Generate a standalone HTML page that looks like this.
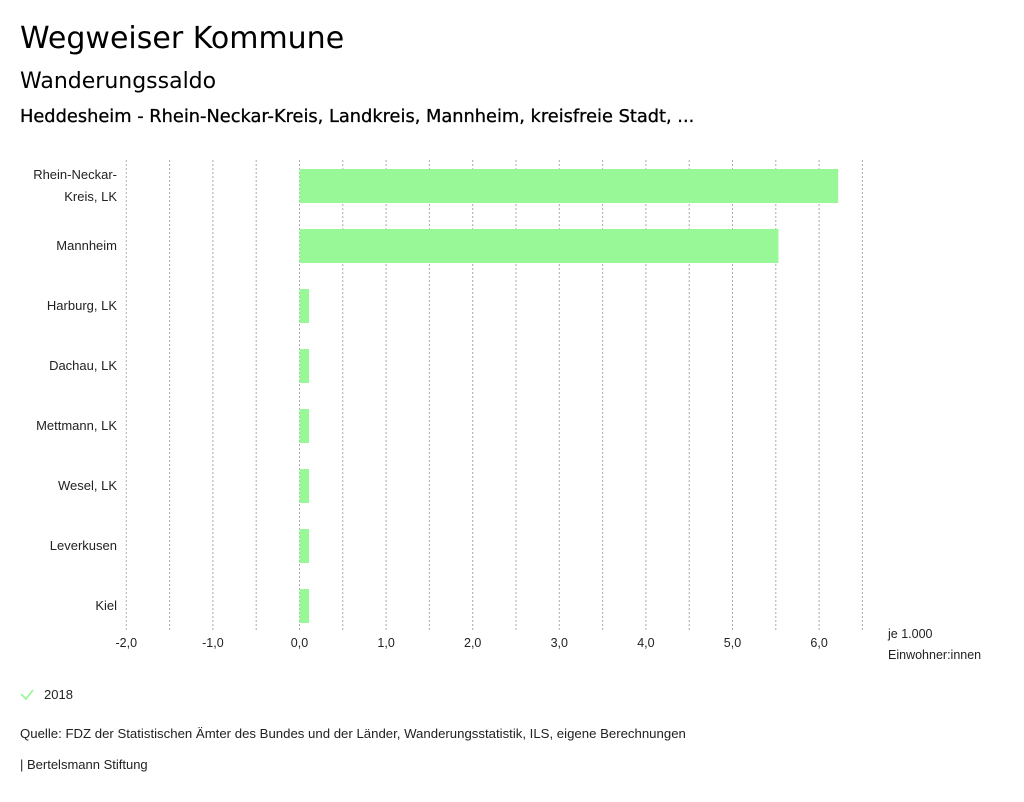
<!DOCTYPE html>
<html><head><meta charset="utf-8"><style>
body{margin:0;width:1024px;height:797px;background:#fff;font-family:"Liberation Sans",sans-serif;color:#000;overflow:hidden}
</style></head><body>
<svg width="1024" height="797" xmlns="http://www.w3.org/2000/svg">
<text x="20" y="48" font-size="30" font-family="DejaVu Sans, sans-serif">Wegweiser Kommune</text>
<text x="20" y="88" font-size="22" font-family="DejaVu Sans, sans-serif">Wanderungssaldo</text>
<text x="20" y="122" font-size="17.8" stroke="#000" stroke-width="0.3" font-family="DejaVu Sans, sans-serif">Heddesheim - Rhein-Neckar-Kreis, Landkreis, Mannheim, kreisfreie Stadt, ...</text>
<g id="grid"></g>
<g id="bars"></g>
<g id="ylabels" font-size="13" fill="#222" text-anchor="end"></g>
<g id="xlabels" font-size="12.5" fill="#222" text-anchor="middle"></g>
<text x="888" y="638" font-size="12.5" fill="#222"><tspan x="888">je 1.000</tspan><tspan x="888" dy="21">Einwohner:innen</tspan></text>
<g>
<path d="M21 694 L26 699 L33 690" stroke="#98f898" stroke-width="1.6" fill="none"/>
<text x="44" y="699" font-size="13" fill="#222">2018</text>
</g>
<text x="20" y="738" font-size="13.2" fill="#222">Quelle: FDZ der Statistischen Ämter des Bundes und der Länder, Wanderungsstatistik, ILS, eigene Berechnungen</text>
<text x="20" y="769" font-size="13" fill="#222">| Bertelsmann Stiftung</text>
</svg>
<script>
const categories=[["Rhein-Neckar-","Kreis, LK"],["Mannheim"],["Harburg, LK"],["Dachau, LK"],["Mettmann, LK"],["Wesel, LK"],["Leverkusen"],["Kiel"]];
const values=[6.22,5.53,0.11,0.11,0.11,0.11,0.11,0.11];
const tickValues=[-2,-1,0,1,2,3,4,5,6];
const tickLabels=["-2,0","-1,0","0,0","1,0","2,0","3,0","4,0","5,0","6,0"];
const gridValues=[-2,-1.5,-1,-0.5,0,0.5,1,1.5,2,2.5,3,3.5,4,4.5,5,5.5,6,6.5];
const NS="http://www.w3.org/2000/svg";
const x=v=>299.5+v*86.6;
const yc=i=>186+i*60;
function mk(t,a,p){const e=document.createElementNS(NS,t);for(const k in a)e.setAttribute(k,a[k]);p.appendChild(e);return e;}
const g=document.getElementById('grid');
gridValues.forEach(v=>{const l=mk('line',{x1:x(v),x2:x(v),y1:160,y2:632,stroke:'#aaa','stroke-width':1,'stroke-dasharray':'2,2'},g);

});
const b=document.getElementById('bars');
values.forEach((v,i)=>{const r=mk('rect',{x:Math.min(x(0),x(v)),y:yc(i)-17,width:Math.abs(x(v)-x(0)),height:34,fill:'#98f898'},b);

});
const yl=document.getElementById('ylabels');
categories.forEach((c,i)=>{const t=mk('text',{x:117,y:0},yl);


const start=yc(i)+4-(c.length-1)*11;
c.forEach((s,j)=>{const ts=mk('tspan',{x:117,y:start+j*22},t);ts.textContent=s;});});
const xl=document.getElementById('xlabels');
tickValues.forEach((v,i)=>{const t=mk('text',{x:x(v),y:647},xl);t.textContent=tickLabels[i];

});
</script>
</body></html>
